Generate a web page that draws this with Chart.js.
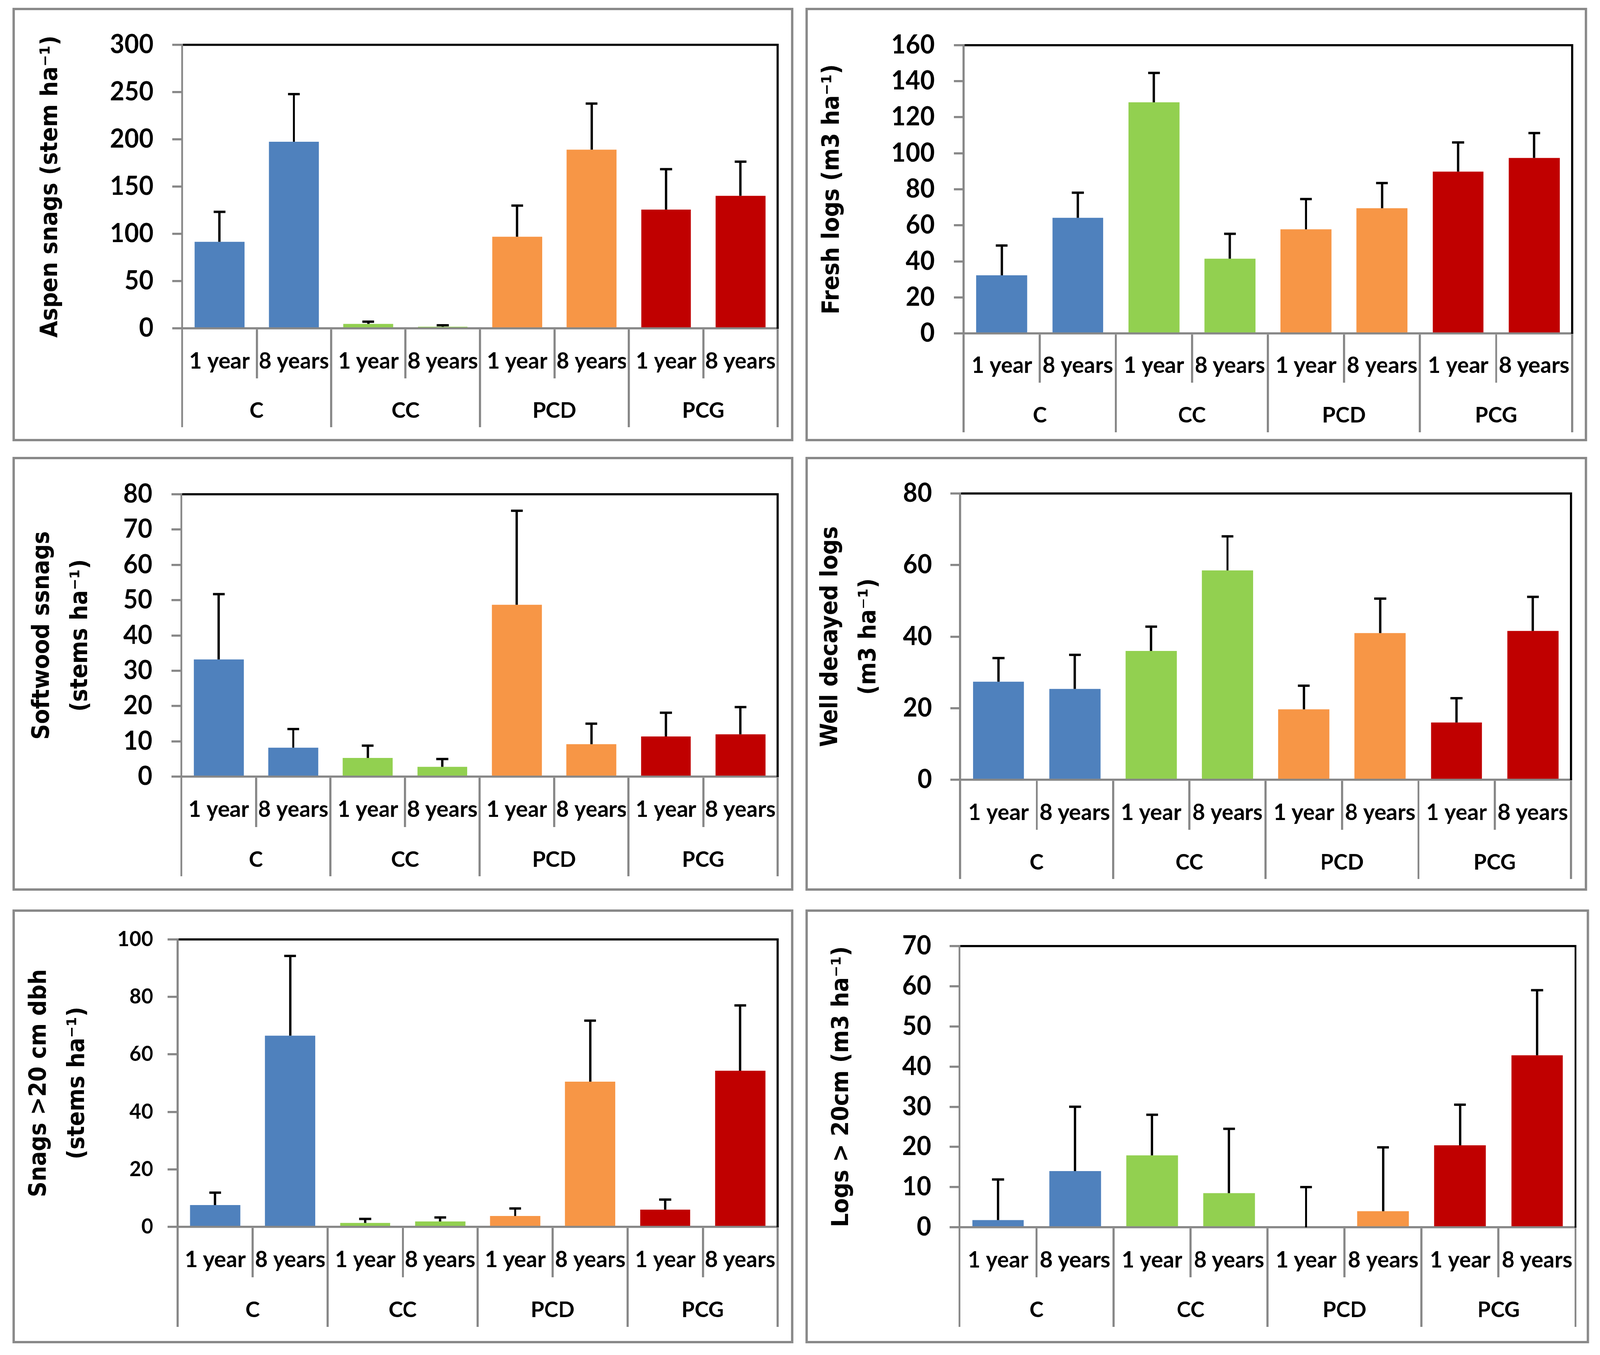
<!DOCTYPE html>
<html><head><meta charset="utf-8">
<script src="https://cdn.jsdelivr.net/npm/chart.js@4.4.1/dist/chart.umd.min.js"></script>
<style>
html,body{margin:0;padding:0;background:#fff;overflow:hidden;}
#root{position:absolute;left:0;top:0;width:4197px;height:3470px;transform-origin:0 0;background:#fff;}
.panel{position:absolute;border:6px solid #898989;box-sizing:border-box;background:#fff;}
.panel canvas{position:absolute;left:0;top:0;}
</style></head><body>
<div id="root"></div>
<script>
// ---------- data ----------
const categories = ['1 year','8 years','1 year','8 years','1 year','8 years','1 year','8 years'];
const groups = ['C','CC','PCD','PCG'];

const aspenSnags      = [91.6, 197.4, 4.7, 1.8, 96.9, 189.1, 125.7, 140.2];
const aspenSnagsSE    = [31.7, 50.4, 2.4, 1.5, 33.0, 48.7, 42.7, 36.2];
const freshLogs       = [32.3, 64.2, 128.3, 41.5, 57.8, 69.5, 89.8, 97.4];
const freshLogsSE     = [16.5, 13.9, 16.3, 13.8, 16.8, 14.0, 16.2, 13.8];
const softwoodSnags   = [33.2, 8.2, 5.3, 2.8, 48.7, 9.2, 11.4, 12.0];
const softwoodSnagsSE = [18.5, 5.3, 3.5, 2.2, 26.6, 5.8, 6.7, 7.7];
const decayedLogs     = [27.4, 25.4, 36.0, 58.5, 19.7, 41.0, 16.0, 41.6];
const decayedLogsSE   = [6.6, 9.5, 6.8, 9.5, 6.6, 9.6, 6.8, 9.5];
const bigSnags        = [7.6, 66.5, 1.4, 1.9, 3.8, 50.5, 6.0, 54.3];
const bigSnagsSE      = [4.3, 27.7, 1.4, 1.4, 2.6, 21.2, 3.5, 22.7];
const bigLogs         = [1.8, 14.0, 17.9, 8.5, 0, 4.0, 20.4, 42.8];
const bigLogsSE       = [10.1, 16.0, 10.1, 16.0, 10.0, 15.9, 10.1, 16.2];

const axisTitles = [
  'Aspen snags (stem ha\u207B\u00B9)',
  'Fresh logs (m3 ha\u207B\u00B9)',
  ['Softwood ssnags', '(stems ha\u207B\u00B9)'],
  ['Well decayed logs', '(m3 ha\u207B\u00B9)'],
  ['Snags >20 cm dbh', '(stems ha\u207B\u00B9)'],
  'Logs > 20cm (m3 ha\u207B\u00B9)'
];
const yMaxes = [300, 160, 80, 80, 100, 70];
const ySteps = [50, 20, 10, 20, 20, 10];

// ---------- styles ----------
const barColors = ['#4F81BD','#4F81BD','#92D050','#92D050','#F79646','#F79646','#C00000','#C00000'];
const GRAY = '#878787';
const LW = 5.5;

// geometry (page pixels)
const geoms = [
  {box:[33,20,2081,1130],   L:478,  T:100,  R:2040, Z:841,  r1:969,  r2:1094, tx:[134],       tick:66, tpad:49},
  {box:[2113,20,4163,1130], L:2528, T:115,  R:4124, Z:854,  r1:980,  r2:1107, tx:[2184],      tick:66, tpad:50},
  {box:[33,1170,2081,2281], L:476,  T:1243, R:2040, Z:1989, r1:2118, r2:2244, tx:[112,214],   tick:66, tpad:50},
  {box:[2113,1170,4163,2281],L:2519,T:1249, R:4121, Z:1997, r1:2125, r2:2251, tx:[2180,2280], tick:66, tpad:48},
  {box:[33,2329,2081,3440], L:466,  T:2398, R:2040, Z:3142, r1:3271, r2:3398, tx:[104,203],   tick:54, tpad:38},
  {box:[2113,2329,4168,3440],L:2517,T:2398, R:4133, Z:3143, r1:3271, r2:3398, tx:[2209],      tick:66, tpad:48}
];

const seriesList = [
  [aspenSnags, aspenSnagsSE],
  [freshLogs, freshLogsSE],
  [softwoodSnags, softwoodSnagsSE],
  [decayedLogs, decayedLogsSE],
  [bigSnags, bigSnagsSE],
  [bigLogs, bigLogsSE]
];

// title font selection (condensed if available)
const mc = document.createElement('canvas').getContext('2d');
mc.font = 'bold 62px "DejaVu Sans Condensed", "DejaVu Sans"';
const wc = mc.measureText('Aspen snags (stem ha)').width;
mc.font = 'bold 62px "DejaVu Sans"';
const wn = mc.measureText('Aspen snags (stem ha)').width;
const titleFont = (wc < wn * 0.96) ? {family:'"DejaVu Sans Condensed", "DejaVu Sans"', size:62}
                                    : {family:'"DejaVu Sans"', size:56};

const errorBarPlugin = {
  id: 'errbars',
  afterDatasetsDraw(chart) {
    const ctx = chart.ctx, ys = chart.scales.y;
    chart.data.datasets.forEach((ds, di) => {
      const meta = chart.getDatasetMeta(di);
      meta.data.forEach((bar, i) => {
        const v = ds.data[i], e = ds.errors[i];
        const yTop = ys.getPixelForValue(v + e);
        const yBase = ys.getPixelForValue(v);
        ctx.save();
        ctx.strokeStyle = '#000'; ctx.lineWidth = 6; ctx.lineCap = 'butt';
        ctx.beginPath();
        ctx.moveTo(bar.x, yBase); ctx.lineTo(bar.x, yTop - 3);
        ctx.moveTo(bar.x - 15.5, yTop); ctx.lineTo(bar.x + 15.5, yTop);
        ctx.stroke();
        ctx.restore();
      });
    });
  }
};

const root = document.getElementById('root');

function makePanel(idx) {
  const g = geoms[idx];
  const [values, errs] = seriesList[idx];
  const [bl, bt, br, bb] = g.box;
  const div = document.createElement('div');
  div.className = 'panel';
  div.style.left = bl + 'px'; div.style.top = bt + 'px';
  div.style.width = (br - bl) + 'px'; div.style.height = (bb - bt) + 'px';
  root.appendChild(div);
  const cx = bl + 6, cy = bt + 6, cw = br - bl - 12, ch = bb - bt - 12;
  const canvas = document.createElement('canvas');
  canvas.width = cw; canvas.height = ch;
  canvas.style.width = cw + 'px'; canvas.style.height = ch + 'px';
  div.appendChild(canvas);

  const h1 = g.r1 - g.Z, h2 = g.r2 - g.r1;
  const f1 = 58, f2 = 56;
  const pad1 = 0.656 * h1 - h1 - f1 / 2;
  const pad2 = 0.664 * h2 - h2 - f2 / 2;
  const tLH = 100;

  new Chart(canvas, {
    type: 'bar',
    data: {
      labels: categories,
      datasets: [{
        data: values, errors: errs, xAxisID: 'x', yAxisID: 'y',
        backgroundColor: barColors, borderWidth: 0,
        barPercentage: 0.67, categoryPercentage: 1.0
      }]
    },
    options: {
      responsive: false, animation: false, devicePixelRatio: 1,
      layout: {padding: {left: 0, top: g.T - cy, right: cx + cw - g.R, bottom: cy + ch - g.r2}},
      plugins: {legend: {display: false}, tooltip: {enabled: false}, title: {display: false}},
      scales: {
        x: {
          type: 'category', position: 'bottom', offset: true,
          grid: {offset: true, drawOnChartArea: false, drawTicks: true, tickLength: h1, color: GRAY, lineWidth: LW},
          border: {display: true, color: GRAY, width: LW},
          ticks: {color: '#000', font: {family: 'Lato', weight: 'bold', size: f1, lineHeight: 1},
                  padding: pad1, maxRotation: 0, minRotation: 0, autoSkip: false},
          afterFit: s => { s.height = h1; }
        },
        x2: {
          type: 'category', axis: 'x', labels: groups, position: 'bottom', weight: 1, offset: true,
          grid: {offset: true, drawOnChartArea: false, drawTicks: true, tickLength: h2, color: GRAY, lineWidth: LW},
          border: {display: false},
          ticks: {color: '#000', font: {family: 'Lato', weight: 'bold', size: f2, lineHeight: 1},
                  padding: pad2, maxRotation: 0, minRotation: 0, autoSkip: false},
          afterFit: s => { s.height = h2; }
        },
        xt: {
          type: 'linear', axis: 'x', position: 'top',
          grid: {display: false, drawTicks: false}, ticks: {display: false},
          border: {display: true, color: '#000', width: LW},
          afterFit: s => { s.height = 0; }
        },
        y: {
          type: 'linear', position: 'left', min: 0, max: yMaxes[idx],
          grid: {drawOnChartArea: false, drawTicks: true, tickLength: 26, color: GRAY, lineWidth: LW},
          border: {display: true, color: GRAY, width: LW},
          ticks: {stepSize: ySteps[idx], color: '#000', padding: g.tpad,
                  font: {family: 'Lato', weight: 'bold', size: g.tick}},
          title: {display: true, text: axisTitles[idx], color: '#000',
                  font: {family: titleFont.family, weight: 'bold', size: titleFont.size, lineHeight: tLH / titleFont.size},
                  padding: {top: g.tx[0] - cx - tLH / 2, bottom: 0}},
          afterFit: s => { s.width = g.L - cx; }
        },
        yr: {
          type: 'linear', axis: 'y', position: 'right',
          grid: {display: false, drawTicks: false}, ticks: {display: false},
          border: {display: true, color: '#000', width: LW},
          afterFit: s => { s.width = 0; }
        }
      }
    },
    plugins: [errorBarPlugin]
  });
}

for (let i = 0; i < 6; i++) makePanel(i);

// fit the 4197x3470 drawing into the actual viewport
function fitRoot() {
  const vw = document.documentElement.clientWidth || window.innerWidth;
  const vh = document.documentElement.clientHeight || window.innerHeight;
  const sx = Math.min(1, vw / 4197), sy = Math.min(1, vh / 3470);
  root.style.transform = 'scale(' + sx + ',' + sy + ')';
}
fitRoot();
</script>
</body></html>
